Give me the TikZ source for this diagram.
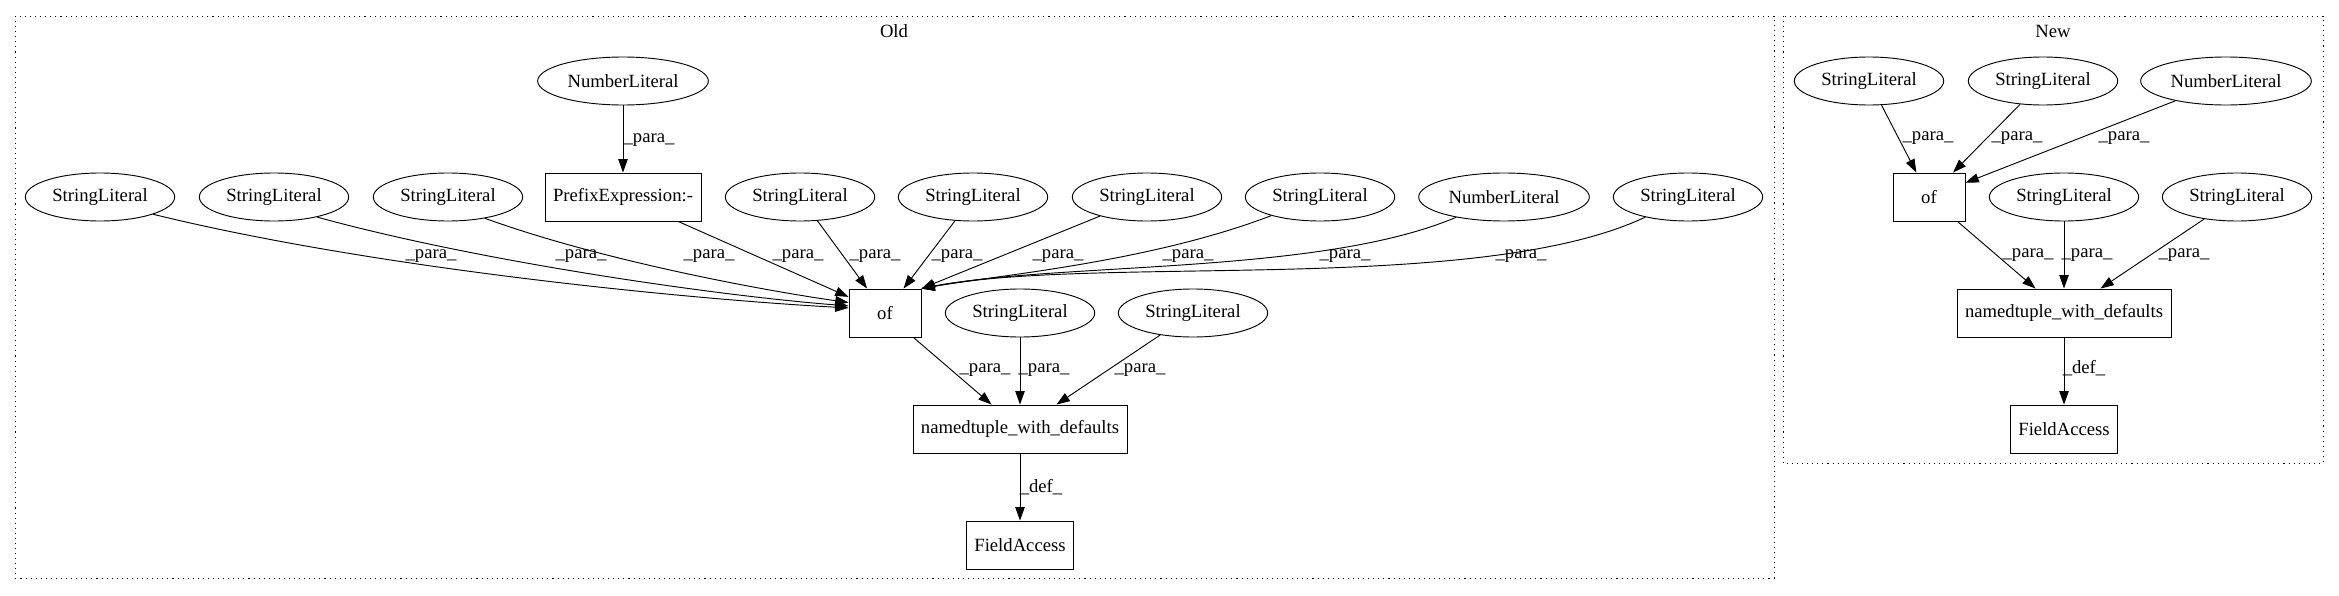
\documentclass[tikz,border=0pt]{standalone}
\usepackage{fontspec}
\setmainfont{Liberation Serif}
\usepackage{tikz}
\usetikzlibrary{calc,positioning,shapes.geometric,arrows.meta}

\begin{document}
\begin{tikzpicture}[x=0.75pt,y=-0.75pt,line width=0.7pt,
		font=\fontsize{14}{16}\selectfont,
		lit/.style={shape=ellipse,draw,minimum width=112pt,minimum height=36pt,inner sep=1pt},
		box/.style={shape=rectangle,draw,minimum width=54pt,minimum height=36pt,inner xsep=6pt},
		edge/.style={-{Triangle[length=10pt,width=7pt]}},
		lbl/.style={inner sep=0pt},
		cluster/.style={draw,dash pattern=on 0.8pt off 3pt}]
		\useasboundingbox (0,0) rectangle (2339,596);
		\draw[cluster] (15,16) rectangle (1774,578);
		\draw[cluster] (1783,16) rectangle (2323,463);
		\node(oldtitle) at (894,31) {Old};
		\node(newtitle) at (2053,31) {New};
		% old
		\node(n1) [lit,minimum width=128pt] at (623,81) {NumberLiteral};
		\node(s1) [lit] at (100,197) {StringLiteral};
		\node(s2) [lit] at (274,197) {StringLiteral};
		\node(s3) [lit] at (448,197) {StringLiteral};
		\node(pre) [box] at (623,197) {PrefixExpression:-};
		\node(s4) [lit] at (800,197) {StringLiteral};
		\node(s5) [lit] at (973,197) {StringLiteral};
		\node(s6) [lit] at (1147,197) {StringLiteral};
		\node(s7) [lit] at (1320,197) {StringLiteral};
		\node(n2) [lit,minimum width=128pt] at (1504,197) {NumberLiteral};
		\node(s8) [lit] at (1688,197) {StringLiteral};
		\node(of1) [box] at (885,313) {of};
		\node(s9) [lit] at (1020,313) {StringLiteral};
		\node(s10) [lit] at (1193,313) {StringLiteral};
		\node(nt1) [box] at (1020,429) {namedtuple\_with\_defaults};
		\node(fa1) [box] at (1020,545) {FieldAccess};
		\draw[edge] (n1) -- (pre);
		\draw[edge] (s1.-18) .. controls (380,270) and (700,300) .. (of1.172);
		\draw[edge] (s2.-25) .. controls (480,262) and (720,296) .. (of1.169);
		\draw[edge] (s3.-30) .. controls (600,260) and (760,290) .. (of1.164);
		\draw[edge] (pre) -- (of1);
		\draw[edge] (s4) -- (of1);
		\draw[edge] (s5) -- (of1);
		\draw[edge] (s6) -- (of1.north east);
		\draw[edge] (s7) .. controls (1150,262) and (1000,275) .. (of1.north east);
		\draw[edge] (n2) .. controls (1320,275) and (1060,262) .. (of1.north east);
		\draw[edge] (s8) .. controls (1480,295) and (1100,255) .. (of1.north east);
		\draw[edge] (of1) -- (nt1);
		\draw[edge] (s9) -- (nt1);
		\draw[edge] (s10) -- (nt1);
		\draw[edge] (nt1) -- (fa1);
		\node(p1) [lbl] at (649,140) {\_para\_};
		\node(p2) [lbl] at (431,256) {\_para\_};
		\node(p3) [lbl] at (581,256) {\_para\_};
		\node(p4) [lbl] at (709,256) {\_para\_};
		\node(p5) [lbl] at (798,256) {\_para\_};
		\node(p6) [lbl] at (875,256) {\_para\_};
		\node(p7) [lbl] at (957,256) {\_para\_};
		\node(p8) [lbl] at (1058,256) {\_para\_};
		\node(p9) [lbl] at (1188,256) {\_para\_};
		\node(p10) [lbl] at (1345,256) {\_para\_};
		\node(p11) [lbl] at (1521,256) {\_para\_};
		\node(p12) [lbl] at (985,370) {\_para\_};
		\node(p13) [lbl] at (1044,370) {\_para\_};
		\node(p14) [lbl] at (1140,370) {\_para\_};
		\node(d1) [lbl] at (1041,487) {\_def\_};
		% new
		\node(t1) [lit] at (1869,81) {StringLiteral};
		\node(t2) [lit] at (2043,81) {StringLiteral};
		\node(n3) [lit,minimum width=128pt] at (2226,81) {NumberLiteral};
		\node(of2) [box] at (1929,197) {of};
		\node(t3) [lit] at (2064,197) {StringLiteral};
		\node(t4) [lit] at (2237,197) {StringLiteral};
		\node(nt2) [box] at (2064,313) {namedtuple\_with\_defaults};
		\node(fa2) [box] at (2064,429) {FieldAccess};
		\draw[edge] (t1) -- (of2);
		\draw[edge] (t2) -- (of2);
		\draw[edge] (n3) -- (of2);
		\draw[edge] (of2) -- (nt2);
		\draw[edge] (t3) -- (nt2);
		\draw[edge] (t4) -- (nt2);
		\draw[edge] (nt2) -- (fa2);
		\node(q1) [lbl] at (1928,138) {\_para\_};
		\node(q2) [lbl] at (2017,138) {\_para\_};
		\node(q3) [lbl] at (2124,138) {\_para\_};
		\node(q4) [lbl] at (2028,255) {\_para\_};
		\node(q5) [lbl] at (2087,255) {\_para\_};
		\node(q6) [lbl] at (2184,255) {\_para\_};
		\node(d2) [lbl] at (2084,368) {\_def\_};
\end{tikzpicture}
\end{document}
